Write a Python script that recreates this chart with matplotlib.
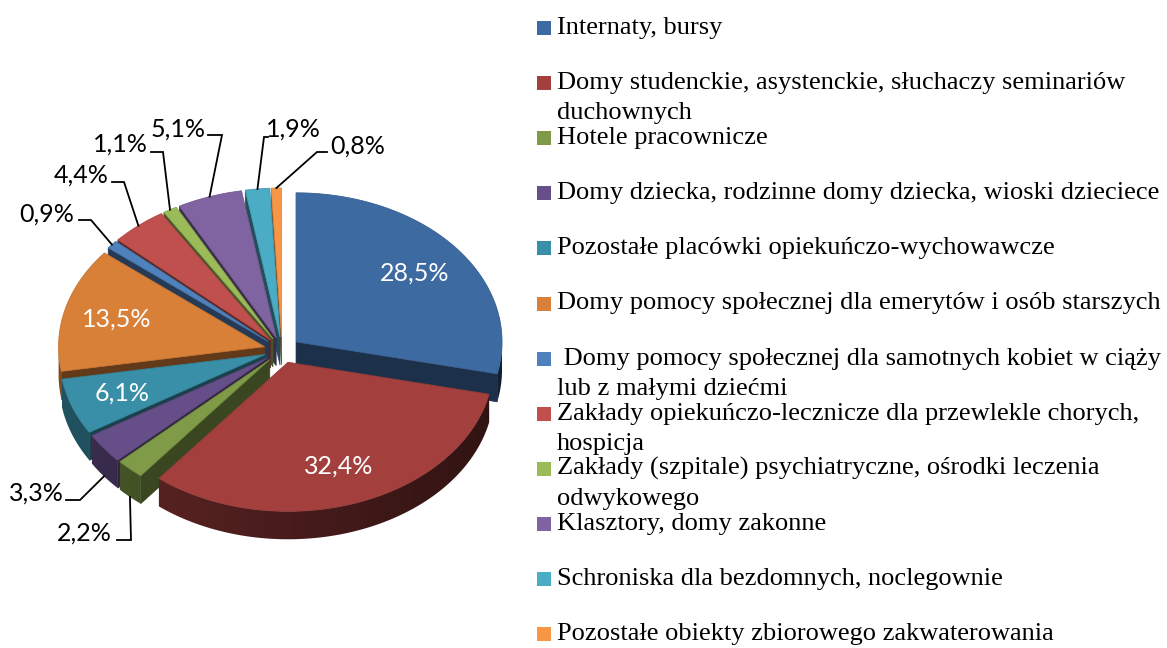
import numpy as np
import matplotlib
matplotlib.use("Agg")
import matplotlib.pyplot as plt
from matplotlib.patches import Polygon
from matplotlib.colors import to_rgb

# ---------------- data ----------------
categories = [
    "Internaty, bursy",
    "Domy studenckie, asystenckie, słuchaczy seminariów\nduchownych",
    "Hotele pracownicze",
    "Domy dziecka, rodzinne domy dziecka, wioski dzieciece",
    "Pozostałe placówki opiekuńczo-wychowawcze",
    "Domy pomocy społecznej dla emerytów i osób starszych",
    " Domy pomocy społecznej dla samotnych kobiet w ciąży\nlub z małymi dziećmi",
    "Zakłady opiekuńczo-lecznicze dla przewlekle chorych,\nhospicja",
    "Zakłady (szpitale) psychiatryczne, ośrodki leczenia\nodwykowego",
    "Klasztory, domy zakonne",
    "Schroniska dla bezdomnych, noclegownie",
    "Pozostałe obiekty zbiorowego zakwaterowania",
]
values = [28.5, 32.4, 2.2, 3.3, 6.1, 13.5, 0.9, 4.4, 1.1, 5.1, 1.9, 0.8]
colors = ["#3E6AA2", "#A3403E", "#7F9B47", "#664E88", "#3A8FA8", "#D98038",
          "#4F81BD", "#C0504D", "#9BBB59", "#8064A2", "#4BACC6", "#F79646"]

# ---------------- layout ----------------
W, H = 1167, 648
CX, CY = 282, 350
RX, RY = 206, 149
E = 18          # explosion
DEPTH = 28

fig = plt.figure(figsize=(W / 100, H / 100), dpi=100)
ax = fig.add_axes([0, 0, 1, 1])
ax.set_xlim(0, W)
ax.set_ylim(H, 0)
ax.axis("off")


def shade(c, f):
    return tuple(np.clip(np.array(to_rgb(c)) * f, 0, 1))


total = sum(values)
cum = np.concatenate([[0], np.cumsum(values)])
t1s = 90 - 360 * cum[:-1] / total
t2s = 90 - 360 * cum[1:] / total


def pt(t, ox, oy, dz=0.0, r=1.0):
    tr = np.radians(t)
    return (CX + ox + r * RX * np.cos(tr), CY + oy - r * RY * np.sin(tr) + dz)


info = []
for i, v in enumerate(values):
    t1, t2 = t1s[i], t2s[i]
    tm = (t1 + t2) / 2
    ox = E * np.cos(np.radians(tm))
    oy = -E * (RY / RX) * np.sin(np.radians(tm))
    info.append((t1, t2, tm, ox, oy))

z = [1.0]


def nz():
    z[0] += 0.01
    return z[0]


# sides, back to front
order = sorted(range(len(values)), key=lambda i: np.sin(np.radians(info[i][2])), reverse=True)
for i in order:
    t1, t2, tm, ox, oy = info[i]
    c = colors[i]
    apex = (CX + ox, CY + oy)
    apex_b = (CX + ox, CY + oy + DEPTH)
    # radial walls
    for t, vis in ((t2, np.cos(np.radians(t2)) > 0), (t1, np.cos(np.radians(t1)) < 0)):
        if vis:
            p = pt(t, ox, oy)
            pb = pt(t, ox, oy, DEPTH)
            ax.add_patch(Polygon([apex, p, pb, apex_b], closed=True, zorder=nz(),
                                 facecolor=shade(c, 0.45), edgecolor=shade(c, 0.45), lw=0.5))
    # outer side with horizontal gradient
    ts = np.linspace(t1, t2, max(4, int(abs(t1 - t2) * 3)))
    run = [t for t in ts if np.sin(np.radians(t)) <= 0.001]
    if len(run) >= 2:
        poly = [pt(t, ox, oy) for t in run] + [pt(t, ox, oy, DEPTH) for t in run[::-1]]
        xs = np.array([p[0] for p in poly])
        ys = np.array([p[1] for p in poly])
        x0, x1 = xs.min() - 1, xs.max() + 1
        y0, y1 = ys.min() - 1, ys.max() + 1
        gx = np.linspace(x0, x1, 200)
        cosv = np.clip((gx - CX - ox) / RX, -1, 1)
        f = 0.44 + 0.14 * (-cosv)
        base = np.array(to_rgb(c))
        img = np.clip(f[None, :, None] * base[None, None, :], 0, 1)
        img = np.repeat(img, 2, axis=0)
        zz = nz()
        clip = Polygon(poly, closed=True, facecolor="none", edgecolor="none", transform=ax.transData)
        ax.add_patch(clip)
        im = ax.imshow(img, extent=(x0, x1, y1, y0), origin="upper", aspect="auto",
                       interpolation="bilinear", zorder=zz)
        im.set_clip_path(clip)

# top faces
for i in range(len(values)):
    t1, t2, tm, ox, oy = info[i]
    ts = np.linspace(t1, t2, max(6, int(abs(t1 - t2) * 2)))
    poly = [(CX + ox, CY + oy)] + [pt(t, ox, oy) for t in ts]
    ax.add_patch(Polygon(poly, closed=True, facecolor=colors[i], edgecolor=shade(colors[i], 0.9),
                         lw=0.6, zorder=5))

ax.set_xlim(0, W)
ax.set_ylim(H, 0)


def fmt(v):
    return f"{v:.1f}".replace(".", ",") + "%"


pct_font = dict(family=["Lato", "DejaVu Sans"], fontsize=18)

# inside labels
for i, v in enumerate(values):
    if v >= 6:
        t1, t2, tm, ox, oy = info[i]
        x, y = pt(tm, ox, oy, r=0.74)
        ax.text(x, y, fmt(v), color="white", ha="center", va="center", zorder=8, **pct_font)

# outside labels: index -> (text center, tail, knee)
outside = {
    2: ((84, 533), (117, 540), (131, 540)),
    3: ((36, 493), (66, 500), (80, 500)),
    6: ((47, 214), (79, 220), (91, 220)),
    7: ((81, 175), (112, 182), (124, 182)),
    8: ((120, 144), (151, 152), (163, 152)),
    9: ((178, 129), (208, 135), (222, 135)),
    10: ((293, 129), (268, 137), (264, 137)),
    11: ((358, 146), (327, 152), (317, 152)),
}
for i, (tc, tail, knee) in outside.items():
    t1, t2, tm, ox, oy = info[i]
    if np.sin(np.radians(tm)) < 0:
        end = pt(tm, ox, oy, DEPTH)
    else:
        end = pt(tm, ox, oy)
    ax.plot([tail[0], knee[0], end[0]], [tail[1], knee[1], end[1]], color="black", lw=1.3,
            solid_joinstyle="miter", zorder=8)
    ax.text(tc[0], tc[1], fmt(values[i]), color="black", ha="center", va="center", zorder=8, **pct_font)

# legend
LX_M, LX_T = 537, 557
for k, cat in enumerate(categories):
    yc = 28 + k * 55.1
    ax.add_patch(Polygon([(LX_M, yc - 7), (LX_M + 14, yc - 7), (LX_M + 14, yc + 7), (LX_M, yc + 7)],
                         closed=True, facecolor=colors[k], edgecolor="none", zorder=8))
    for j, line in enumerate(cat.split("\n")):
        ax.text(LX_T, yc + j * 30, line, ha="left", va="center", zorder=8,
                family=["Liberation Serif", "DejaVu Serif"], fontsize=19, color="black")

fig.savefig("out.png", dpi=100, facecolor="white")
